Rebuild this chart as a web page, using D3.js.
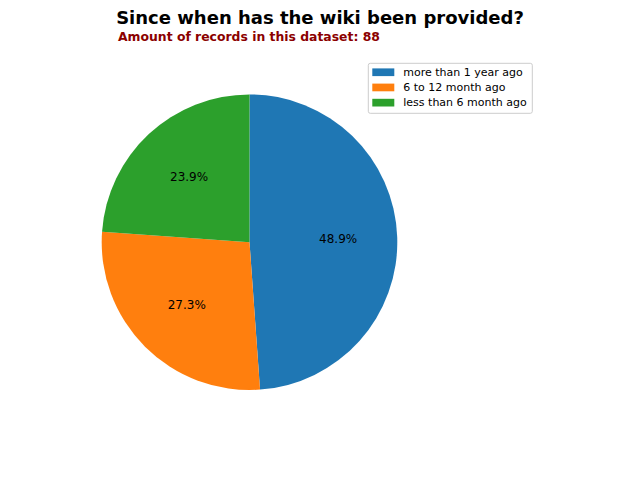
<!DOCTYPE html>
<html>
<head>
<meta charset="utf-8">
<script src="https://cdn.jsdelivr.net/npm/d3@7"></script>
<style>
  body { margin: 0; background: #fff; }
  text { font-family: "DejaVu Sans", sans-serif; }
</style>
</head>
<body>
<div id="canvas"></div>
<script>
// data (88 records in total)
const categories = ["more than 1 year ago", "6 to 12 month ago", "less than 6 month ago"];
const counts = [43, 24, 21];
const totalRecords = 88;

const width = 640;
const height = 480;
const cx = 249.5, cy = 242.2, radius = 147.8;

const svg = d3.select("#canvas").append("svg")
    .attr("width", width)
    .attr("height", height);

const color = d3.scaleOrdinal()
    .domain(categories)
    .range(["#1f77b4", "#ff7f0e", "#2ca02c"]);

const data = categories.map((c, i) => ({name: c, value: counts[i]}));
const total = d3.sum(counts);

const pie = d3.pie().sort(null).value(d => d.value);
const arc = d3.arc().innerRadius(0).outerRadius(radius);
const labelArc = d3.arc().innerRadius(radius * 0.6).outerRadius(radius * 0.6);

const g = svg.append("g").attr("transform", `translate(${cx}, ${cy})`);

const slices = g.selectAll("path").data(pie(data));
slices.enter().append("path")
    .attr("d", arc)
    .attr("fill", d => color(d.data.name));

g.selectAll("text.pct").data(pie(data)).enter().append("text")
    .attr("class", "pct")
    .attr("x", d => labelArc.centroid(d)[0])
    .attr("y", d => labelArc.centroid(d)[1])
    .attr("text-anchor", "middle")
    .attr("dominant-baseline", "central")
    .style("font-size", "12px")
    .text(d => (d.data.value / total * 100).toFixed(1) + "%");

// title + subtitle
svg.append("text")
    .attr("x", 320)
    .attr("y", 24)
    .attr("text-anchor", "middle")
    .style("font-size", "18px")
    .style("font-weight", "bold")
    .text("Since when has the wiki been provided?");

svg.append("text")
    .attr("x", 118)
    .attr("y", 40.7)
    .style("font-size", "12.4px")
    .style("font-weight", "bold")
    .attr("fill", "#8b0000")
    .text("Amount of records in this dataset: " + totalRecords);

// legend
const legend = svg.append("g").attr("transform", "translate(368.3, 63.3)");
legend.append("rect")
    .attr("width", 164)
    .attr("height", 50)
    .attr("rx", 2)
    .attr("fill", "#fff")
    .attr("fill-opacity", 0.8)
    .attr("stroke", "#cccccc")
    .attr("stroke-width", 1);

const items = legend.selectAll("g.item").data(categories).enter().append("g")
    .attr("class", "item")
    .attr("transform", (d, i) => `translate(0, ${9 + i * 15.2})`);

items.append("rect")
    .attr("x", 4)
    .attr("y", -3.9)
    .attr("width", 22)
    .attr("height", 7.7)
    .attr("fill", d => color(d));

items.append("text")
    .attr("x", 35)
    .attr("y", 0)
    .attr("dominant-baseline", "central")
    .style("font-size", "11px")
    .attr("fill", "#000")
    .text(d => d);
</script>
</body>
</html>
